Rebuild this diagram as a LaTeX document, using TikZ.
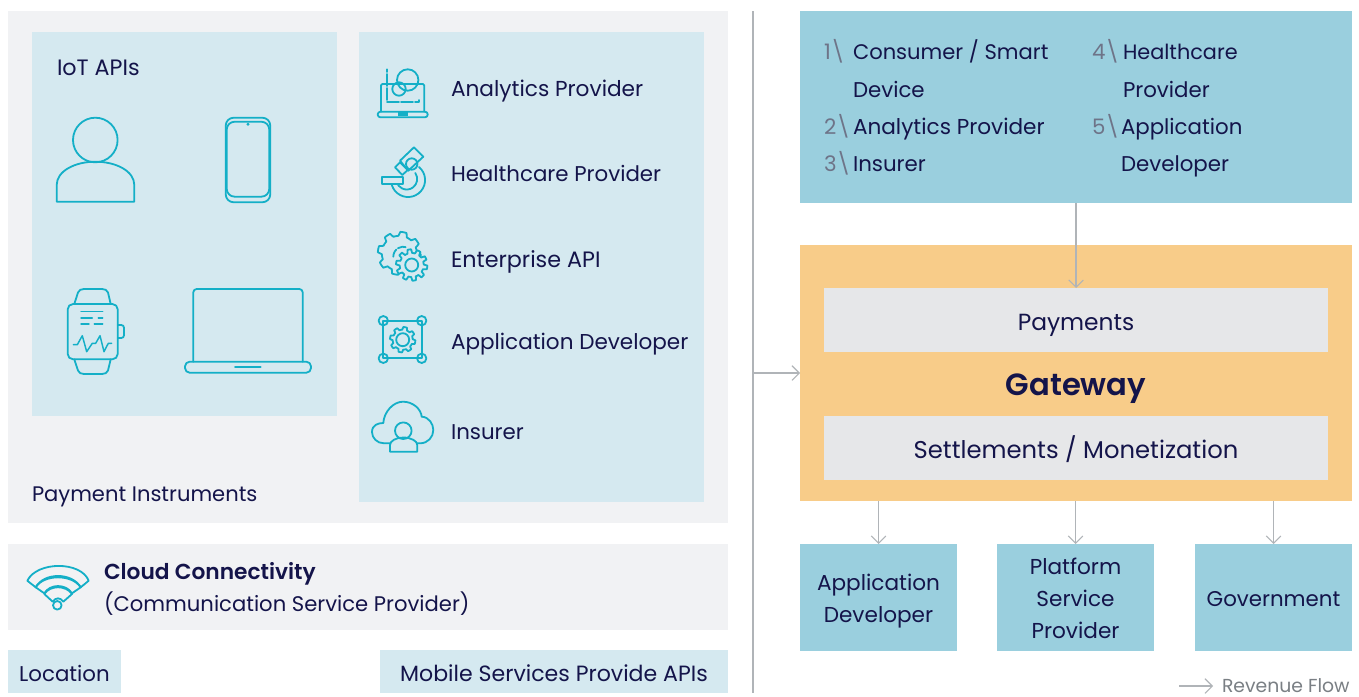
\documentclass[tikz,border=0pt]{standalone}
\usepackage{fontspec}
\setmainfont{Poppins}[BoldFont={Poppins SemiBold}]
\usetikzlibrary{arrows.meta,calc}
\definecolor{panel}{HTML}{F1F2F4}
\definecolor{pale}{HTML}{D5E9F0}
\definecolor{teal}{HTML}{9ACFDE}
\definecolor{gate}{HTML}{F8CC89}
\definecolor{band}{HTML}{E6E7E9}
\definecolor{ink}{HTML}{14144A}
\definecolor{num}{HTML}{6E7488}
\definecolor{flowc}{HTML}{B0B4B8}
\definecolor{ico}{HTML}{14AFC7}
\definecolor{gry}{HTML}{7A7F84}
\newcommand{\fs}[1]{\fontsize{#1}{24}\selectfont}
\newcommand{\gearpath}[6][]{% centre x,y, outer, inner, teeth
 \draw[ico line,#1] plot[samples={8*#6+1},domain=22.5/#6:360+22.5/#6,variable=\t]
 ({#2+(sin(#6*\t)>0?#4:#5)*cos(\t)},{#3+(sin(#6*\t)>0?#4:#5)*sin(\t)}) -- cycle;}
% \bx[options]{name}{x0}{y0}{x1}{y1}{text}
\newcommand{\bx}[7][]{\node[inner sep=0pt,outer sep=0pt,align=center,text=ink,
  minimum width={(#5-#3)*0.75pt},minimum height={(#6-#4)*0.75pt},#1] (#2) at ({(#3+#5)/2},{(#4+#6)/2}) {#7};}
\tikzset{
 txt/.style={inner sep=0pt,outer sep=0pt,anchor=base west,text=ink,font=\fs{16}},
 ctr/.style={font=\fs{16},text height=17pt,text depth=2pt},
 flow/.style={draw=flowc,line width=0.8pt,-{Straight Barb[length=5.5pt,width=11pt,line width=0.8pt]}},
 ico line/.style={draw=ico,line width=1.35pt,line join=round,line cap=round},
 thin ico/.style={ico line,line width=1.1pt}
}
\begin{document}
\begin{tikzpicture}[x=0.75pt,y=-0.75pt]
\useasboundingbox (0,0) rectangle (1359,696);
\fill[white] (0,0) rectangle (1359,696);
% panels
\bx[fill=panel]{instruments}{8}{11}{728}{523}{}
\bx[fill=pale]{iot}{32}{32}{337}{416}{}
\bx[fill=pale]{providers}{359}{32}{704}{502}{}
\bx[fill=panel]{cloud}{8}{544}{728}{630}{}
\bx[fill=pale,ctr]{location}{8}{650}{121}{693}{Location}
\bx[fill=pale,ctr,font=\fs{16.55}]{mobile}{380}{650}{728}{693}{Mobile Services Provide APIs}
\bx[fill=teal]{top}{800}{11}{1352}{203}{}
\bx[fill=gate]{gateway}{800}{245}{1352}{501}{}
\bx[fill=band,ctr,font=\fs{17.5}]{payments}{824}{288}{1328}{352}{Payments}
\bx[fill=band,ctr,text height=18pt,font=\fs{18.2}]{settle}{824}{416}{1328}{480}{Settlements / Monetization}
\bx[fill=teal,font=\fs{16.2}]{appdev}{800}{544}{957}{651}{\rule{0pt}{17.5pt}Application\\Developer}
\bx[fill=teal,font=\fs{16.2}]{platform}{997}{544}{1154}{651}{\rule{0pt}{13.5pt}Platform\\Service\\Provider}
\bx[fill=teal,ctr,text height=15.5pt]{gov}{1195}{544}{1352}{651}{Government}
\node[inner sep=0pt,text=ink,font=\fs{23}\bfseries,anchor=base] (gwlabel) at (1076,395) {Gateway};
% texts
\node[txt,font=\fs{16.7}] (t1) at (57,75) {IoT APIs};
\node[txt,font=\fs{16.25}] (t2) at (451,96) {Analytics Provider};
\node[txt] (t3) at (451,181) {Healthcare Provider};
\node[txt,font=\fs{16.7}] (t4) at (451,267) {Enterprise API};
\node[txt,font=\fs{16.15}] (t5) at (451,349) {Application Developer};
\node[txt] (t6) at (451,439) {Insurer};
\node[txt,font=\fs{15.8}] (t7) at (32,501) {Payment Instruments};
\node[txt,font=\fs{16.3}\bfseries] (t8) at (104,579) {Cloud Connectivity};
\node[txt,font=\fs{15.85}] (t9) at (104,611) {(Communication Service Provider)};
\node[txt,text=num] (n1) at (824,59) {1\textbackslash};
\node[txt,font=\fs{15.8}] (l1) at (853,59) {Consumer / Smart};
\node[txt] (l1b) at (853,97) {Device};
\node[txt,text=num] (n2) at (824,134) {2\textbackslash};
\node[txt,font=\fs{16.2}] (l2) at (853,134) {Analytics Provider};
\node[txt,text=num] (n3) at (824,171) {3\textbackslash};
\node[txt] (l3) at (853,171) {Insurer};
\node[txt,text=num] (n4) at (1092,59) {4\textbackslash};
\node[txt,font=\fs{15.6}] (l4) at (1123,59) {Healthcare};
\node[txt] (l4b) at (1123,97) {Provider};
\node[txt,text=num] (n5) at (1092,134) {5\textbackslash};
\node[txt] (l5) at (1121,134) {Application};
\node[txt] (l5b) at (1121,171) {Developer};
\node[txt,text=gry,font=\fs{14.1}] (rev) at (1222,692) {Revenue Flow};
% connectors
\coordinate (divT) at (753,11);
\coordinate (divB) at (753,693);
\coordinate (divM) at (753,373);
\coordinate (legend) at (1179,686);
\coordinate (legendEnd) at (1213,686);
\draw[draw=flowc,line width=0.8pt] (divT) -- (divB);
\draw[flow] (divM) -- (gateway.west);
\draw[flow] (top.south) -- (payments.north);
\draw[flow] (appdev.north |- gateway.south) -- (appdev.north);
\draw[flow] (platform.north |- gateway.south) -- (platform.north);
\draw[flow] (gov.north |- gateway.south) -- (gov.north);
\draw[flow] (legend) -- (legendEnd);
% person
\draw[ico line] (95.3,140) circle (22.3);
\draw[ico line] (56.7,201.7) -- (56.7,185) .. controls (56.7,171) and (75,161.7) .. (95.3,161.7) .. controls (116,161.7) and (134.3,171) .. (134.3,185) -- (134.3,201.7) -- cycle;
% phone
\draw[ico line,rounded corners=6] (225.7,117.7) rectangle (270.3,202.3);
\draw[ico line,rounded corners=6] (226.7,121.7) rectangle (269.3,196.7);
\fill[ico] (248,124.3) circle (1.6);
% watch
\draw[ico line,rounded corners=4] (67.7,304) rectangle (117.7,359.3);
\draw[ico line] (74.3,304) -- (78,292.5) .. controls (79,290) and (81,289) .. (84,289) -- (102,289) .. controls (105,289) and (107,290) .. (108,292.5) -- (110.7,304);
\draw[ico line] (74.3,359.3) -- (78,370.5) .. controls (79,373) and (81,374) .. (84,374) -- (102,374) .. controls (105,374) and (107,373) .. (108,370.5) -- (110.7,359.3);
\draw[ico line,rounded corners=2] (117.7,325) -- (124,325) -- (124,338) -- (117.7,338);
\draw[thin ico] (81,311.7) -- (102.7,311.7) (81,318) -- (92.3,318) (98.3,318) -- (102.7,318) (81,324) -- (89,324) (94.3,324) -- (102.7,324);
\draw[thin ico] (73.3,344.7) -- (77.3,344.7) -- (82.3,335.7) -- (86.7,351.7) -- (92.3,343.3) -- (95.7,343.3) -- (100,335.7) -- (104,351.7) -- (108.3,343.3) -- (111.7,343.3);
% laptop
\draw[ico line,rounded corners=2.5] (193.3,361.7) -- (193.3,289) -- (302.7,289) -- (302.7,361.7);
\draw[ico line,rounded corners=3.5] (185,361.7) -- (185,372.7) -- (311,372.7) -- (311,361.7) -- cycle;
\draw[ico line] (235,367.3) -- (260.7,367.3);
% analytics icon
\draw[ico line,rounded corners=1] (381,111.7) -- (381,84) -- (424.3,84) -- (424.3,111.7);
\draw[ico line,rounded corners=2] (377.7,111.7) rectangle (427.7,117.3);
\fill[ico] (398.3,112) rectangle (407.7,116);
\draw[ico line] (387.3,69.3) -- (387.3,72);
\draw[ico line,dash pattern=on 9pt off 1.5pt] (387.3,74) -- (387.3,102.3) -- (419.3,102.3) -- (419.3,100);
\draw[ico line] (407.7,80) circle (10.7);
\draw[ico line] (399,89) circle (6.7);
% microscope icon
\draw[ico line] (419,167) arc (-50:170:17);
\draw[ico line] (415.3,173) arc (-35:165:10.5);
\draw[ico line,fill=pale] (381.7,177.3) rectangle (403.3,184);
\draw[ico line,fill=pale] (414,147.3) -- (423.3,156.7) -- (408.3,170.7) -- (400,160.7) -- cycle;
\draw[ico line,fill=pale] (395,167.3) -- (400,162.3) -- (407.7,170) -- (402.3,175) -- cycle;
\draw[ico line] (411.7,164) circle (5.7);
% enterprise icon
\gearpath{399.3}{253.3}{21.5}{17.5}{8}
\draw[ico line,dash pattern=on 6pt off 1.5pt] (393.3,256.7) arc (180:290:10);
\gearpath[fill=pale]{411.7}{265}{15.7}{12}{10}
\draw[ico line] (411.7,265) circle (6.5);
% app developer icon
\draw[ico line] (383.3,320.7) rectangle (421.7,358.3);
\foreach \cx/\cy in {383.3/320.7,421.7/320.7,383.3/358.3,421.7/358.3} \draw[ico line] (\cx,\cy) circle (4.7);
\gearpath{402.7}{339.7}{12.7}{10}{8}
\draw[ico line] (402.7,339.7) circle (6.5);
% insurer icon
\draw[ico line] (390,443.3) -- (384,443.3) .. controls (377,443.3) and (372,438) .. (372,432) .. controls (372,425) and (378,423) .. (383.3,423) .. controls (384,412) and (393,401.7) .. (403,401.7) .. controls (413,401.7) and (421,409) .. (421.7,416.7) .. controls (429,417) and (433.3,424) .. (433.3,430) .. controls (433.3,437) and (428,443.3) .. (420,443.3) -- (417,443.3);
\draw[ico line] (403.3,430.7) circle (8.3);
\draw[ico line] (390,451.7) -- (390,445) .. controls (390,441) and (396,437.5) .. (403.3,437.5) .. controls (411,437.5) and (417.3,441) .. (417.3,445) -- (417.3,451.7) -- cycle;
% wifi icon
\draw[ico line] (27.3,580.7) .. controls (37,561) and (81,561) .. (88.7,580.7) -- (80.7,587.3) .. controls (72,572.2) and (44,572.2) .. (35.7,587.3) -- cycle;
\draw[ico line] (35.7,587.3) .. controls (44,574) and (72,574) .. (80.7,587.3) -- (72,593.3) .. controls (66,583.6) and (50,583.6) .. (44.3,593.3) -- cycle;
\draw[ico line] (44.3,594) .. controls (50,585) and (66,585) .. (72,594) -- (63.3,601.7) .. controls (60,597.2) and (56,597.2) .. (52.7,601.7) -- cycle;
\draw[ico line] (57.3,605.3) circle (4.3);
\end{tikzpicture}
\end{document}
